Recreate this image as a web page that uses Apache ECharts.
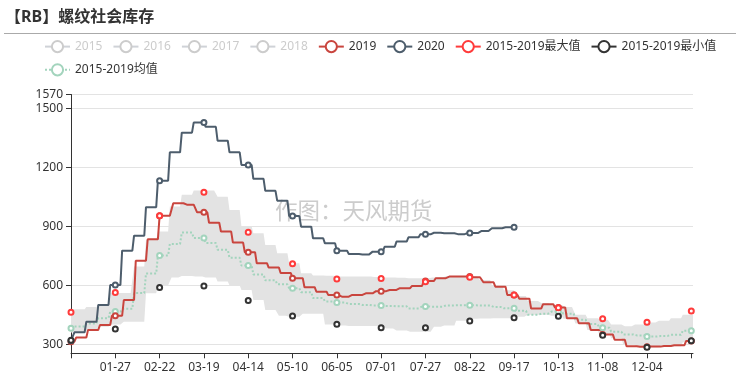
<!DOCTYPE html>
<html><head><meta charset="utf-8">
<script src="https://cdn.jsdelivr.net/npm/echarts@6/dist/echarts.min.js"></script>
<style>html,body{margin:0;padding:0;background:#fff}#c{width:736px;height:388px}</style>
</head><body><div id="c"></div>
<script>
const FONT = '"Noto Sans","Noto Sans CJK SC",sans-serif';
const titleText = '【RB】螺纹社会库存';
const watermark = '作图：天风期货';
const legendNames = ['2015','2016','2017','2018','2019','2020','2015-2019最大值','2015-2019最小值','2015-2019均值'];
const yTicks = [300, 600, 900, 1200, 1500, 1570];
const yMin = 254, yMax = 1570;

// weekly values (2019 weeks start on 2019 Fridays, others on 2020 Fridays)
const v2019Start = 313;
const v2019 = [334,373,398,445,525,725,834,954,1017,1010,971,918,873,817,768,712,690,662,636,590,567,550,542,551,559,570,576,585,596,622,636,644,644,641,615,593,551,532,482,504,487,432,407,373,349,323,290,287,288,291,295,317];
const v2020Start = 318;
const v2020 = [361,415,500,601,776,852,997,1132,1276,1376,1427,1406,1335,1276,1212,1141,1080,1030,952,898,839,813,776,759,757,771,796,822,844,859,867,864,860,866,876,890,895];
const v2020LastDay = '09-17';
const meanStart = 381;
const mean = [390,405,432,466,480,560,660,751,810,868,840,815,780,740,700,655,625,605,585,565,535,518,512,505,500,497,495,493,482,492,491,497,498,498,497,490,483,470,450,455,466,455,425,403,384,364,350,345,339,342,348,369];
const bandTopStart = 475;
const bandTop = [478,490,505,560,560,695,830,873,1000,1060,1082,1082,1050,983,900,864,805,763,712,661,650,648,645,645,645,642,640,638,636,636,640,646,647,645,627,600,575,545,520,510,500,490,450,432,425,400,392,400,410,420,432,450];
const bandLowStart = 360;
const bandLow = [362,370,389,400,415,415,559,600,640,647,645,640,619,600,576,525,474,445,440,455,455,400,395,393,393,393,380,370,364,364,389,395,420,430,431,432,432,440,450,450,445,430,405,372,350,330,300,287,285,286,290,310];
// values at the labelled dates (01-01, 01-27, ... 12-30)
const maxAtLabels = [463,563,954,1073,870,709,632,634,618,641,551,486,430,412,469];
const minAtLabels = [320,378,588,596,522,444,402,384,384,418,435,442,346,285,318];

const pad = n => String(n).padStart(2,'0');
const fmt = d => pad(d.getUTCMonth()+1) + '-' + pad(d.getUTCDate());
const days = [];
for (let i = 0; i < 366; i++) days.push(fmt(new Date(Date.UTC(2020,0,1+i))));
function weekIdx(year, firstDay, n) {
  const r = [];
  for (let k = 0; k < n; k++) r.push(days.indexOf(fmt(new Date(Date.UTC(year,0,firstDay+7*k)))));
  return r;
}
function expand(start, vals, idxs, last) {
  const out = new Array(days.length).fill(null);
  let cur = start, w = 0;
  for (let i = 0; i <= last; i++) {
    while (w < idxs.length && idxs[w] <= i) { cur = vals[w]; w++; }
    out[i] = cur;
  }
  return out;
}
const w19 = weekIdx(2019, 4, v2019.length);
const w20 = weekIdx(2020, 3, 52);
const last = days.length - 1;
const d2019 = expand(v2019Start, v2019, w19, last);
const d2020 = expand(v2020Start, v2020, w20, days.indexOf(v2020LastDay));
const dMean = expand(meanStart, mean, w20, last);
const dTop = expand(bandTopStart, bandTop, w20, last);
const dLow = expand(bandLowStart, bandLow, w20, last);
const dDiff = dTop.map((v,i) => v - dLow[i]);
const labelEvery = 26;
const dMax = days.map((d,i) => i % labelEvery === 0 ? maxAtLabels[i/labelEvery] : null);
const dMin = days.map((d,i) => i % labelEvery === 0 ? minAtLabels[i/labelEvery] : null);

const colors = {'2019':'#c9453e','2020':'#4d5d6c','max':'#ff3b3b','min':'#333','mean':'#a3d4bd'};
const legendData = legendNames.map(n => {
  if (n === '2015-2019最大值') return {name:n, lineStyle:{opacity:1, color:colors.max, width:2}};
  if (n === '2015-2019最小值') return {name:n, lineStyle:{opacity:1, color:colors.min, width:2}};
  return {name:n};
});

const chart = echarts.init(document.getElementById('c'), null, {renderer:'canvas'});
const lineBase = {type:'line', symbol:'emptyCircle', symbolSize:5, showAllSymbol:'auto', z:3};
chart.setOption({
  animation:false,
  textStyle:{fontFamily:FONT},
  title:{text:titleText, left:5, top:9, padding:0, textStyle:{fontSize:16, fontWeight:'bold', color:'#333', fontFamily:FONT}},
  graphic:[
    {type:'line', shape:{x1:4,y1:33.5,x2:736,y2:33.5}, style:{stroke:'#aaa', lineWidth:1}},
    {type:'text', left:275, top:201, z:0, style:{text:watermark, fill:'#ccc', font:'22.5px '+FONT}}
  ],
  legend:{data:legendData, left:39, right:5, top:35, itemWidth:25, itemHeight:14, itemGap:10,
    textStyle:{fontSize:12, color:'#333', fontFamily:FONT}, inactiveColor:'#ccc',
    selected:{'2015':false,'2016':false,'2017':false,'2018':false}},
  grid:{left:71, right:43, top:94.5, bottom:34.7},
  xAxis:{type:'category', data:days, boundaryGap:false,
    axisLine:{lineStyle:{color:'#333'}},
    axisTick:{interval:labelEvery-1, length:5},
    axisLabel:{interval:labelEvery-1, color:'#333', fontSize:12, fontFamily:FONT,
      formatter:(v,i) => (i === 0 || i === last-1) ? '' : v}},
  yAxis:{type:'value', min:yMin, max:yMax,
    axisLine:{show:true, lineStyle:{color:'#333'}},
    axisTick:{show:true, length:5, customValues:yTicks},
    axisLabel:{customValues:yTicks, color:'#333', fontSize:12, fontFamily:FONT, formatter:v => String(v)},
    splitLine:{lineStyle:{color:'#e3e3e3'}}},
  series:[
    {name:'bandLow', type:'line', stack:'band', data:dLow, symbol:'none', lineStyle:{opacity:0}, silent:true, z:1},
    {name:'bandDiff', type:'line', stack:'band', data:dDiff, symbol:'none', lineStyle:{opacity:0}, areaStyle:{color:'#e3e3e3', opacity:1}, silent:true, z:1},
    Object.assign({}, lineBase, {name:'2015', data:[], color:'#c23531'}),
    Object.assign({}, lineBase, {name:'2016', data:[], color:'#2f4554'}),
    Object.assign({}, lineBase, {name:'2017', data:[], color:'#61a0a8'}),
    Object.assign({}, lineBase, {name:'2018', data:[], color:'#d48265'}),
    Object.assign({}, lineBase, {name:'2015-2019均值', data:dMean, color:colors.mean, lineStyle:{type:'dotted', width:2}}),
    Object.assign({}, lineBase, {name:'2019', data:d2019, color:colors['2019'], lineStyle:{width:2}}),
    Object.assign({}, lineBase, {name:'2020', data:d2020, color:colors['2020'], lineStyle:{width:2}}),
    Object.assign({}, lineBase, {name:'2015-2019最大值', data:dMax, color:colors.max, showAllSymbol:true, lineStyle:{opacity:0}, z:4}),
    Object.assign({}, lineBase, {name:'2015-2019最小值', data:dMin, color:colors.min, showAllSymbol:true, lineStyle:{opacity:0}, z:4})
  ]
});
</script></body></html>
